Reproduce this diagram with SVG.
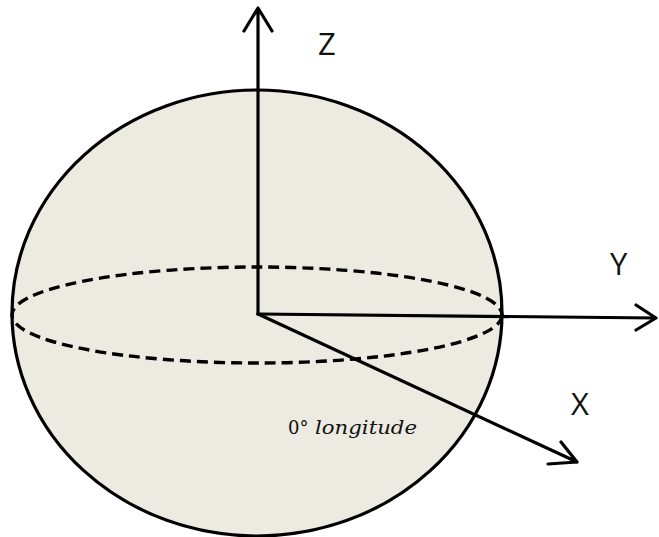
<svg xmlns="http://www.w3.org/2000/svg" width="659" height="537" viewBox="0 0 659 537">
<style>
.ax{stroke:#000;stroke-width:3.2;fill:none;stroke-linecap:round;stroke-linejoin:round}
.lbl{font-family:"Open Sans","Liberation Sans",sans-serif;font-size:31px;fill:#111}
</style>
<rect width="659" height="537" fill="#fff"/>
<g id="sphere">
<ellipse cx="257" cy="313" rx="245" ry="223" fill="#ECEAE1" stroke="#000" stroke-width="3.2"/>
<ellipse cx="257" cy="315" rx="245" ry="48" fill="none" stroke="#000" stroke-width="3.4" stroke-dasharray="11 6"/>
</g>
<g id="connectors">
<path class="ax" d="M258,314 V8 M244,31 L258,8 L272,31"/>
<path class="ax" d="M258,314 L656,318 M636,305 L656,318 L636,330"/>
<path class="ax" d="M258,314 L577,462 M561,442 L577,462 L548,464"/>
</g>
<g id="labels">
<text class="lbl" x="318" y="55">Z</text>
<text class="lbl" x="610" y="275">Y</text>
<text class="lbl" x="571" y="415">X</text>
<text x="288" y="434" font-family="DejaVu Serif,serif" font-size="18" fill="#111">0°</text>
<text x="315" y="434" font-family="DejaVu Serif,serif" font-size="19" font-style="italic" fill="#111" textLength="102" lengthAdjust="spacingAndGlyphs">longitude</text>
</g>
</svg>
